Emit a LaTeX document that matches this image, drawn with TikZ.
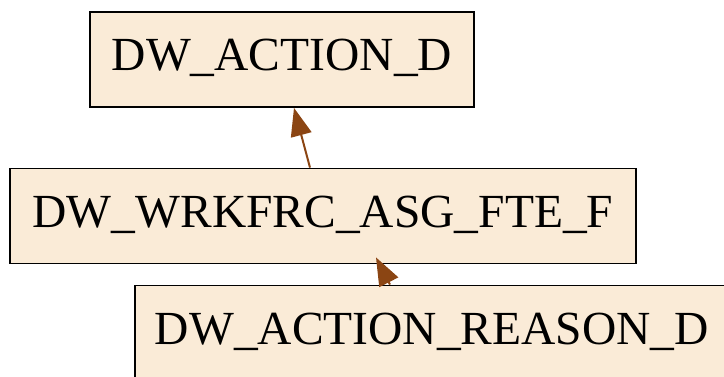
\documentclass[tikz,border=0pt]{standalone}
\usepackage{fontspec}
\setmainfont{Liberation Serif}
\usetikzlibrary{arrows.meta}

\definecolor{tablefill}{HTML}{FAEBD7}
\definecolor{linkbrown}{HTML}{8B4513}

\tikzset{
  table/.style={draw=black, line width=1.8pt, fill=tablefill, inner sep=0pt,
    minimum height=95pt, text height=34pt, text depth=11pt,
    font=\fontsize{47.5}{57}\selectfont},
  link/.style={draw=linkbrown, line width=2pt,
    -{Triangle[length=28pt,width=21pt]}, color=linkbrown}
}

\begin{document}
\begin{tikzpicture}[x=1pt,y=-1pt]
	    % Keep the reference's frame
	    \useasboundingbox (0,0) rectangle (724,377);

	    % The three tables
	    \node [table, minimum width=384pt] (action) at (282,59.5) {DW\_ACTION\_D};
	    \node [table, minimum width=626pt] (fte) at (323,216) {DW\_WRKFRC\_ASG\_FTE\_F};
	    \node [table, minimum width=594pt] (reason) at (432,333) {DW\_ACTION\_REASON\_D};

	    % Links from the fact table up to the action dimension
	    \draw [link] ([xshift=-13pt]fte.north) -- ([xshift=12pt]action.south);

	    % And from the reason dimension up to the fact table
	    \draw [link] ([xshift=-42pt]reason.north) -- ([xshift=53pt,yshift=7pt]fte.south);
\end{tikzpicture}
\end{document}
